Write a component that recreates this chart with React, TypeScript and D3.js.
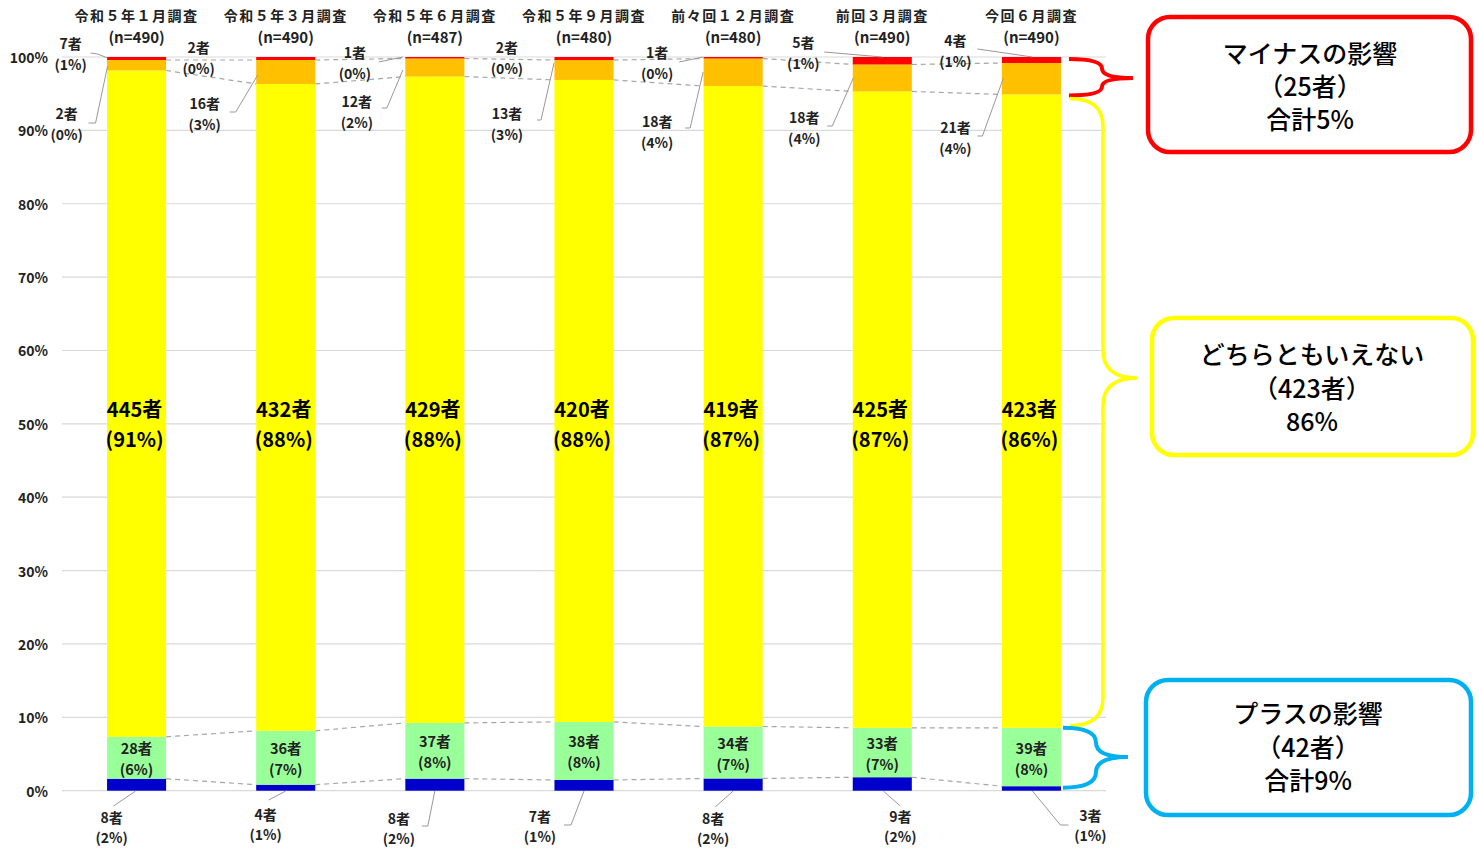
import React from "react";
import * as d3 from "d3";

const categories = ["令和５年１月調査", "令和５年３月調査", "令和５年６月調査", "令和５年９月調査", "前々回１２月調査", "前回３月調査", "今回６月調査"];
const nTotals = [490, 490, 487, 480, 480, 490, 490];
// stacked from bottom
const strongPlus = [8, 4, 8, 7, 8, 9, 3];
const plus = [28, 36, 37, 38, 34, 33, 39];
const neither = [445, 432, 429, 420, 419, 425, 423];
const minus = [7, 16, 12, 13, 18, 18, 21];
const strongMinus = [2, 2, 1, 2, 1, 5, 4];
// printed labels
const strongPlusPct = ["2%", "1%", "2%", "1%", "2%", "2%", "1%"];
const plusPct = ["6%", "7%", "8%", "8%", "7%", "7%", "8%"];
const neitherPct = ["91%", "88%", "88%", "88%", "87%", "87%", "86%"];
const minusPct = ["0%", "3%", "2%", "3%", "4%", "4%", "4%"];
const strongMinusPct = ["1%", "0%", "0%", "0%", "0%", "1%", "1%"];
const upperLabelCount = [7, 2, 1, 2, 1, 5, 4];
const lowerLabelCount = [2, 16, 12, 13, 18, 18, 21];
const yTicks = [0, 0.1, 0.2, 0.3, 0.4, 0.5, 0.6, 0.7, 0.8, 0.9, 1.0];

const summaryMinus = ["マイナスの影響", "（25者）", "合計5%"];
const summaryNeither = ["どちらともいえない", "（423者）", "86%"];
const summaryPlus = ["プラスの影響", "（42者）", "合計9%"];

const colors = ["#0000CC", "#99FF99", "#FFFF00", "#FFC000", "#FF0000"];

// annotation placement (offsets from bar centre)
const upperLbl = [
  { dx: -66, y: 43, leader: [[-46, 53], [-39, 54], [-29, 58]] },
  { dx: -87, y: 47, leader: null },
  { dx: -80, y: 52, leader: [[-56, 62], [-32, 57]] },
  { dx: -77, y: 47, leader: null },
  { dx: -76, y: 52, leader: [[-54, 62], [-30, 57]] },
  { dx: -79, y: 42, leader: [[-58, 52], [0, 57]] },
  { dx: -76, y: 40, leader: [[-54, 49], [1, 57]] },
];
const lowerLbl = [
  { dx: -70, y: 113, leader: [[-48, 123], [-41, 123], [-29, 66]] },
  { dx: -81, y: 103, leader: [[-56, 112], [-50, 112], [-28, 75]] },
  { dx: -78, y: 101, leader: [[-53, 108], [-48, 108], [-32, 70]] },
  { dx: -77, y: 113, leader: [[-47, 120], [-43, 120], [-30, 63]] },
  { dx: -76, y: 121, leader: [[-48, 128], [-43, 128], [-30, 72]] },
  { dx: -78, y: 117, leader: [[-55, 126], [-50, 126], [-29, 78]] },
  { dx: -76, y: 127, leader: [[-54, 136], [-49, 136], [-28, 78]] },
];
const bottomLbl = [
  { dx: -25, y: 817, leader: [[-1, 791], [-23, 806]] },
  { dx: -20, y: 814, leader: [[0, 791], [-17, 800]] },
  { dx: -36, y: 818, leader: [[0, 791], [-7, 826], [-13, 826]] },
  { dx: -44, y: 816, leader: [[0, 791], [-13, 825], [-20, 825]] },
  { dx: -20, y: 818, leader: [[0, 791], [-18, 807]] },
  { dx: 18, y: 816, leader: [[1, 791], [18, 806]] },
  { dx: 59, y: 815, leader: [[1, 791], [29, 825], [37, 825]] },
];

const FONT = "'Noto Sans CJK JP', 'Noto Sans', sans-serif";

function brace(x0: number, y0: number, y1: number, xm: number, xt: number, yt: number) {
  const r1 = Math.min(28, (yt - y0) / 2);
  const r2 = Math.min(28, (y1 - yt) / 2);
  return `M${x0},${y0} Q${xm},${y0} ${xm},${y0 + r1} L${xm},${yt - r1} Q${xm},${yt} ${xt},${yt} Q${xm},${yt} ${xm},${yt + r2} L${xm},${y1 - r2} Q${xm},${y1} ${x0},${y1}`;
}

export default function App() {
  const W = 1479, H = 849;
  const x = d3.scaleBand<string>().domain(categories).range([62, 1106]).paddingInner(0.604).paddingOuter(0.302);
  const y = d3.scaleLinear().domain([0, 1]).range([790.7, 57]);
  const bw = x.bandwidth();

  const rows = categories.map((c, i) => ({
    cat: c,
    vals: [strongPlus[i], plus[i], neither[i], minus[i], strongMinus[i]],
    n: nTotals[i],
  }));
  const stack = d3.stack<any>().keys(["0", "1", "2", "3", "4"]).value((d: any, k: string) => d.vals[+k] / d.n);
  const series = stack(rows as any);

  const line = d3.line();
  const cx = (i: number) => (x(categories[i]) as number) + bw / 2;

  const last = categories.length - 1;
  const lastLeft = x(categories[last]) as number;
  const bx0 = lastLeft + bw + 8;
  const sLast = (k: number) => series[k][last];

  const boxText = (lines: string[], cxp: number, ys: number[]) =>
    lines.map((t, j) => (
      <text key={j} x={cxp} y={ys[j]} textAnchor="middle" dominantBaseline="central" fontSize={25} fontWeight={500} fill="#000">
        {t}
      </text>
    ));

  return (
    <svg width={W} height={H} style={{ position: "absolute", left: 0, top: 0, background: "#fff", fontFamily: FONT }}>
      {/* gridlines */}
      {yTicks.map((t) => (
        <line key={t} x1={62} x2={1106} y1={y(t)} y2={y(t)} stroke="#d9d9d9" strokeWidth={1.2} />
      ))}
      {yTicks.map((t) => (
        <text key={"l" + t} x={48} y={y(t)} textAnchor="end" dominantBaseline="central" fontSize={14} fontWeight={600} fill="#222">
          {`${Math.round(t * 100)}%`}
        </text>
      ))}
      {/* connectors */}
      {[0, 1, 2, 3].map((k) =>
        categories.slice(0, -1).map((c, i) => (
          <line
            key={`c${k}-${i}`}
            x1={(x(c) as number) + bw}
            x2={x(categories[i + 1]) as number}
            y1={y(series[k][i][1])}
            y2={y(series[k][i + 1][1])}
            stroke="#a6a6a6"
            strokeWidth={1.2}
            strokeDasharray="5,4"
          />
        ))
      )}
      {/* bars */}
      {series.map((s, k) =>
        s.map((d, i) => (
          <rect key={`b${k}-${i}`} x={x(categories[i])} width={bw} y={y(d[1])} height={y(d[0]) - y(d[1])} fill={colors[k]} />
        ))
      )}
      {/* category titles */}
      {categories.map((c, i) => (
        <g key={"t" + i}>
          <text x={cx(i)} y={15} textAnchor="middle" dominantBaseline="central" fontSize={14} letterSpacing={1.5} fontWeight={700} fill="#222">
            {c}
          </text>
          <text x={cx(i)} y={36} textAnchor="middle" dominantBaseline="central" fontSize={15} fontWeight={700} fill="#222">
            {`(n=${nTotals[i]})`}
          </text>
        </g>
      ))}
      {/* neither labels */}
      {categories.map((c, i) => (
        <g key={"y" + i}>
          <text x={cx(i) - 2} y={y(0.5) - 15} textAnchor="middle" dominantBaseline="central" fontSize={20} fontWeight={700} fill="#000">
            {`${neither[i]}者`}
          </text>
          <text x={cx(i) - 2} y={y(0.5) + 15} textAnchor="middle" dominantBaseline="central" fontSize={20} fontWeight={700} fill="#000">
            {`(${neitherPct[i]})`}
          </text>
        </g>
      ))}
      {/* plus labels */}
      {categories.map((c, i) => {
        const d = series[1][i];
        const m = (y(d[0]) + y(d[1])) / 2;
        return (
          <g key={"g" + i}>
            <text x={cx(i)} y={m - 10} textAnchor="middle" dominantBaseline="central" fontSize={14.5} fontWeight={700} fill="#222">
              {`${plus[i]}者`}
            </text>
            <text x={cx(i)} y={m + 11} textAnchor="middle" dominantBaseline="central" fontSize={14.5} fontWeight={700} fill="#222">
              {`(${plusPct[i]})`}
            </text>
          </g>
        );
      })}
      {/* top outer labels */}
      {categories.map((c, i) => {
        const u = upperLbl[i];
        const l = lowerLbl[i];
        const ci = cx(i);
        return (
          <g key={"u" + i}>
            {u.leader && (
              <path d={line(u.leader.map((p) => [ci + p[0], p[1]]) as any) as string} fill="none" stroke="#999" strokeWidth={1} />
            )}
            <path d={line(l.leader.map((p) => [ci + p[0], p[1]]) as any) as string} fill="none" stroke="#999" strokeWidth={1} />
            <text x={ci + u.dx} y={u.y} textAnchor="middle" dominantBaseline="central" fontSize={14} fontWeight={700} fill="#222">
              {`${upperLabelCount[i]}者`}
            </text>
            <text x={ci + u.dx} y={u.y + 21} textAnchor="middle" dominantBaseline="central" fontSize={14} fontWeight={700} fill="#222">
              {`(${strongMinusPct[i]})`}
            </text>
            <text x={ci + l.dx} y={l.y} textAnchor="middle" dominantBaseline="central" fontSize={14} fontWeight={700} fill="#222">
              {`${lowerLabelCount[i]}者`}
            </text>
            <text x={ci + l.dx} y={l.y + 21} textAnchor="middle" dominantBaseline="central" fontSize={14} fontWeight={700} fill="#222">
              {`(${minusPct[i]})`}
            </text>
          </g>
        );
      })}
      {/* bottom labels */}
      {categories.map((c, i) => {
        const b = bottomLbl[i];
        const ci = cx(i);
        return (
          <g key={"bl" + i}>
            <path d={line(b.leader.map((p) => [ci + p[0], p[1]]) as any) as string} fill="none" stroke="#999" strokeWidth={1} />
            <text x={ci + b.dx} y={b.y} textAnchor="middle" dominantBaseline="central" fontSize={14} fontWeight={700} fill="#222">
              {`${strongPlus[i]}者`}
            </text>
            <text x={ci + b.dx} y={b.y + 20} textAnchor="middle" dominantBaseline="central" fontSize={14} fontWeight={700} fill="#222">
              {`(${strongPlusPct[i]})`}
            </text>
          </g>
        );
      })}
      {/* braces */}
      <path d={brace(bx0, y(sLast(4)[1]) + 2, y(sLast(3)[0]) + 1, bx0 + 33, bx0 + 64, 78)} fill="none" stroke="#FF0000" strokeWidth={4} />
      <path d={brace(bx0 + 1, y(sLast(2)[1]) + 4, y(sLast(2)[0]) - 2, bx0 + 34, bx0 + 68, 378)} fill="none" stroke="#FFFF00" strokeWidth={3.5} />
      <path d={brace(bx0 - 6, y(sLast(1)[1]), y(0) - 3, bx0 + 27, bx0 + 59, 757)} fill="none" stroke="#00B0F0" strokeWidth={4} />
      {/* summary boxes */}
      <rect x={1148} y={17} width={323} height={135} rx={22} fill="#fff" stroke="#FF0000" strokeWidth={4.5} />
      {boxText(summaryMinus, 1310, [52, 85, 118])}
      <rect x={1152} y={318} width={321} height={137} rx={22} fill="#fff" stroke="#FFFF00" strokeWidth={4.5} />
      {boxText(summaryNeither, 1312, [353, 387, 420])}
      <rect x={1146} y={680} width={325} height={135} rx={22} fill="#fff" stroke="#00B0F0" strokeWidth={4.5} />
      {boxText(summaryPlus, 1308, [712, 745.5, 779])}
    </svg>
  );
}
